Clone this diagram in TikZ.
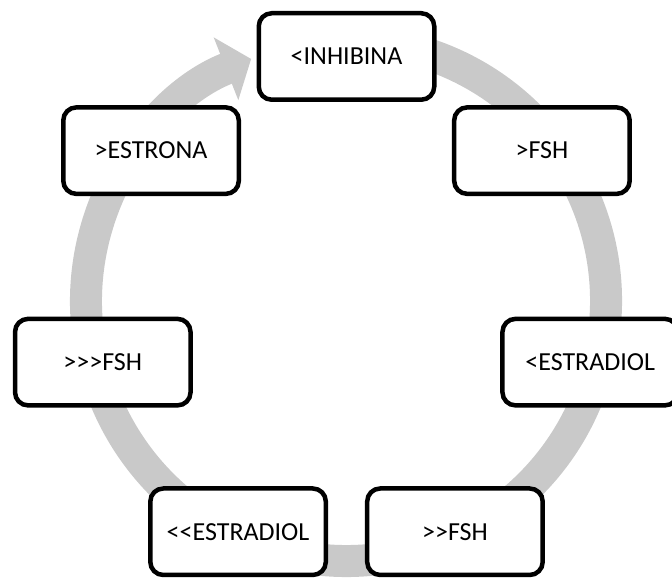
\documentclass[tikz,border=0pt]{standalone}
\usepackage{fontspec}
\setmainfont{Carlito}[Ligatures=TeXOff]
\usetikzlibrary{arrows.meta,calc}
\definecolor{ringgray}{RGB}{201,201,201}
\begin{document}
\begin{tikzpicture}[x=1pt,y=1pt,
  stage/.style={draw=black, line width=4.5pt, fill=white, rounded corners=13pt,
    minimum width=175.5pt, minimum height=86.5pt, inner sep=0pt,
    font=\fontsize{26}{31}\selectfont},
  ring/.style={draw=ringgray, line width=32pt}]
\clip (0,0) rectangle (672,578);
% centres of the circular arrow and of the ring of stages
\coordinate (rc) at (346,277);
\coordinate (nc) at (346.5,271.5);
% grey circular arrow running clockwise behind the stages
\draw[ring, -{Triangle[width=66pt,length=27pt]}]
  ($(rc)+(80:260)$) arc[start angle=80, end angle=-248.6, radius=260];
% the seven stages of the cycle
\node[stage] (inh) at ($(nc)+(90:250)$) {<INHIBINA};
\node[stage] (fsha) at ($(nc)+(38.57:250)$) {>FSH};
\node[stage] (esta) at ($(nc)+(-12.86:250)$) {<ESTRADIOL};
\node[stage] (fshb) at ($(nc)+(-64.29:250)$) {>>FSH};
\node[stage] (estb) at ($(nc)+(-115.71:250)$) {<<ESTRADIOL};
\node[stage] (fshc) at ($(nc)+(-167.14:250)$) {>>>FSH};
\node[stage] (estr) at ($(nc)+(141.43:250)$) {>ESTRONA};
\end{tikzpicture}
\end{document}
